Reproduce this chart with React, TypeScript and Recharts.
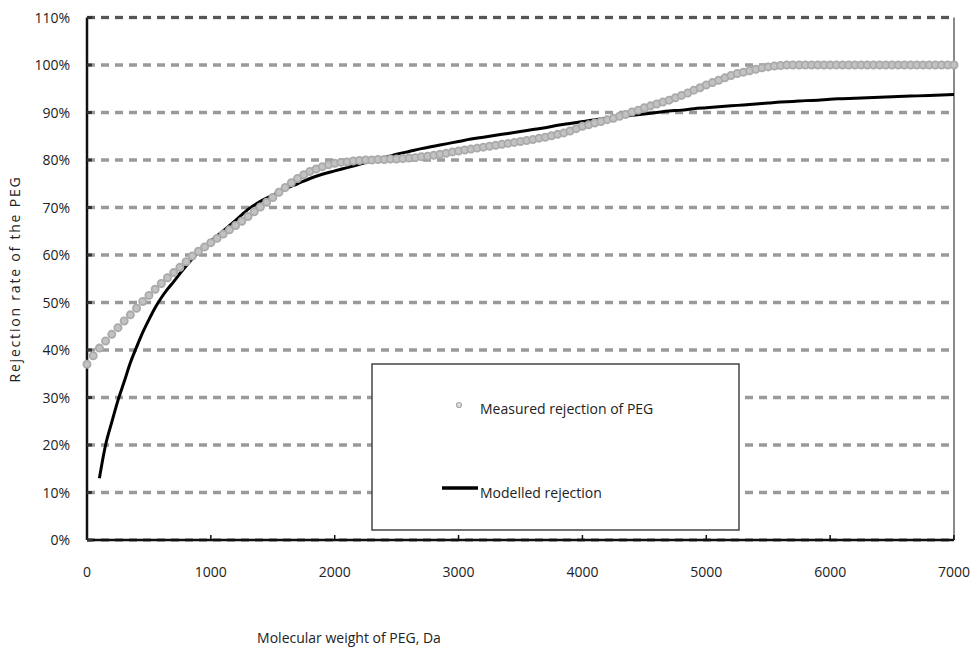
import React from "react"
import {
  ComposedChart,
  Line,
  Scatter,
  XAxis,
  YAxis,
  CartesianGrid,
  ReferenceLine,
} from "recharts"

// measured PEG rejection, every 50 Da
const measuredMw = [
  0, 50, 100, 150, 200, 250, 300, 350, 400, 450, 500, 550, 600, 650, 700, 750, 800, 850, 900, 950,
  1000, 1050, 1100, 1150, 1200, 1250, 1300, 1350, 1400, 1450, 1500, 1550, 1600, 1650, 1700, 1750,
  1800, 1850, 1900, 1950, 2000, 2050, 2100, 2150, 2200, 2250, 2300, 2350, 2400, 2450, 2500, 2550,
  2600, 2650, 2700, 2750, 2800, 2850, 2900, 2950, 3000, 3050, 3100, 3150, 3200, 3250, 3300, 3350,
  3400, 3450, 3500, 3550, 3600, 3650, 3700, 3750, 3800, 3850, 3900, 3950, 4000, 4050, 4100, 4150,
  4200, 4250, 4300, 4350, 4400, 4450, 4500, 4550, 4600, 4650, 4700, 4750, 4800, 4850, 4900, 4950,
  5000, 5050, 5100, 5150, 5200, 5250, 5300, 5350, 5400, 5450, 5500, 5550, 5600, 5650, 5700, 5750,
  5800, 5850, 5900, 5950, 6000, 6050, 6100, 6150, 6200, 6250, 6300, 6350, 6400, 6450, 6500, 6550,
  6600, 6650, 6700, 6750, 6800, 6850, 6900, 6950, 7000,
]
const measuredRejection = [
  37.0, 38.8, 40.4, 41.9, 43.3, 44.7, 46.1, 47.4, 48.8, 50.2, 51.5, 52.8, 54.0, 55.2, 56.3, 57.4, 58.6, 59.8, 60.8, 61.7,
  62.6, 63.5, 64.4, 65.3, 66.2, 67.1, 68.1, 69.1, 70.1, 71.1, 72.1, 73.2, 74.2, 75.2, 76.1, 76.9,
  77.6, 78.1, 78.6, 79.0, 79.3, 79.5, 79.6, 79.8, 79.9, 80.0, 80.0, 80.1, 80.1, 80.2, 80.2, 80.3,
  80.4, 80.5, 80.7, 80.8, 81.0, 81.2, 81.4, 81.7, 81.9, 82.1, 82.3, 82.5, 82.7, 82.9, 83.1, 83.3,
  83.5, 83.7, 83.9, 84.1, 84.3, 84.6, 84.8, 85.1, 85.4, 85.7, 86.1, 86.6, 87.1, 87.4, 87.8, 88.1,
  88.5, 88.8, 89.2, 89.6, 90.1, 90.5, 91.0, 91.4, 91.8, 92.2, 92.6, 93.1, 93.6, 94.1, 94.7, 95.2,
  95.8, 96.3, 96.8, 97.3, 97.8, 98.2, 98.5, 98.8, 99.1, 99.4, 99.6, 99.8, 99.9, 100, 100, 100,
  100, 100, 100, 100, 100, 100, 100, 100, 100, 100, 100, 100, 100, 100, 100, 100,
  100, 100, 100, 100, 100, 100, 100, 100, 100,
]

// model curve
const modelledMw = [
  100, 150, 200, 250, 300, 350, 400, 450, 500, 550, 600, 650, 700, 750, 800, 850, 900,
  1000, 1100, 1200, 1300, 1400, 1500, 1600, 1700, 1800, 1900, 2000, 2100, 2200, 2300, 2400,
  2500, 2600, 2700, 2800, 2900, 3000, 3100, 3200, 3300, 3400, 3500, 3600, 3700, 3800, 3900,
  4000, 4100, 4200, 4300, 4400, 4500, 4600, 4700, 4800, 4900, 5000, 5100, 5200, 5300, 5400,
  5500, 5600, 5700, 5800, 5900, 6000, 6100, 6200, 6300, 6400, 6500, 6600, 6700, 6800, 6900, 7000,
]
const modelledRejection = [
  13.0, 20.0, 24.8, 29.4, 33.3, 37.3, 40.6, 43.7, 46.4, 48.9, 51.0, 52.8, 54.4, 56.1, 57.7, 59.2, 60.6,
  62.9, 65.1, 67.3, 69.6, 71.3, 72.6, 73.9, 75.0, 76.1, 77.0, 77.7, 78.4, 79.1, 79.8, 80.5,
  81.2, 81.8, 82.4, 82.9, 83.4, 83.9, 84.4, 84.8, 85.2, 85.6, 86.0, 86.4, 86.8, 87.3, 87.7,
  88.1, 88.5, 88.8, 89.1, 89.4, 89.7, 90.0, 90.3, 90.5, 90.8, 91.0, 91.2, 91.4, 91.6, 91.8,
  92.0, 92.2, 92.3, 92.5, 92.6, 92.8, 92.9, 93.0, 93.1, 93.2, 93.3, 93.4, 93.5, 93.6, 93.7, 93.8,
]

const xTicks = [0, 1000, 2000, 3000, 4000, 5000, 6000, 7000]
const yTicks = [0, 10, 20, 30, 40, 50, 60, 70, 80, 90, 100, 110]

const measured = measuredMw.map((mw, i) => ({ mw, rate: measuredRejection[i] }))
const modelled = modelledMw.map((mw, i) => ({ mw, rate: modelledRejection[i] }))

const FONT = "'Open Sans', sans-serif"
const TEXT = "#222"

function XTick(props: any) {
  const { x, y, payload } = props
  return (
    <g>
      <line x1={x} x2={x} y1={y} y2={y - 5} stroke="#111" strokeWidth={1.5} />
      <text x={x} y={y + 37} textAnchor="middle" fontSize={14} fontFamily={FONT} fill={TEXT}>
        {payload.value}
      </text>
    </g>
  )
}

function YTick(props: any) {
  const { x, y, payload } = props
  return (
    <g>
      <line x1={x} x2={x + 5} y1={y} y2={y} stroke="#333" strokeWidth={3} />
      <text x={x - 17} y={y + 5} textAnchor="end" fontSize={14} fontFamily={FONT} fill={TEXT}>
        {payload.value}%
      </text>
    </g>
  )
}

function Ring(props: any) {
  const { cx, cy } = props
  if (cx == null || cy == null) return null
  return <circle cx={cx} cy={cy} r={3.6} fill="#c2c2c2" stroke="#aaaaaa" strokeWidth={1.8} />
}

export default function App() {
  return (
    <div style={{ position: "absolute", left: 0, top: 0, width: 976, height: 655, background: "#fff" }}>
      <ComposedChart
        width={976}
        height={655}
        margin={{ top: 17.5, right: 22, left: 27, bottom: 85 }}
      >
        <CartesianGrid
          vertical={false}
          stroke="#9a9a9a"
          strokeWidth={3.5}
          strokeDasharray="8 6"
        />
        <XAxis
          type="number"
          dataKey="mw"
          domain={[0, 7000]}
          ticks={xTicks}
          height={30}
          tickSize={0}
          tickMargin={0}
          tickLine={false}
          axisLine={{ stroke: "#111", strokeWidth: 2.5 }}
          tick={<XTick />}
          interval={0}
        />
        <YAxis
          type="number"
          dataKey="rate"
          domain={[0, 110]}
          ticks={yTicks}
          width={60}
          tickSize={0}
          tickMargin={0}
          tickLine={false}
          axisLine={{ stroke: "#111", strokeWidth: 2.5 }}
          tick={<YTick />}
          interval={0}
        />
        <ReferenceLine y={110} stroke="#555" strokeWidth={3} strokeDasharray="8 6" />
        <ReferenceLine x={7000} stroke="#8a8a8a" strokeWidth={2} />
        <Line
          data={modelled}
          dataKey="rate"
          type="monotone"
          stroke="#000"
          strokeWidth={3}
          dot={false}
          activeDot={false}
          isAnimationActive={false}
        />
        <Scatter
          data={measured}
          dataKey="rate"
          shape={<Ring />}
          isAnimationActive={false}
        />

        {/* legend box */}
        <g>
          <rect x={372} y={364} width={367} height={166} fill="#fff" stroke="#444" strokeWidth={1.5} />
          <circle cx={459} cy={405} r={2.5} fill="#e0e0e0" stroke="#aaa" strokeWidth={1.2} />
          <text x={480} y={414} fontSize={14} fontFamily={FONT} fill={TEXT}>
            Measured rejection of PEG
          </text>
          <line x1={442} x2={478} y1={488} y2={488} stroke="#000" strokeWidth={3.5} />
          <text x={480} y={498} fontSize={14} fontFamily={FONT} fill={TEXT}>
            Modelled rejection
          </text>
        </g>

        <text
          transform="translate(20, 279) rotate(-90)"
          textAnchor="middle"
          fontSize={14}
          fontFamily={FONT}
          fill={TEXT}
          letterSpacing={1.8}
        >
          Rejection rate of the PEG
        </text>
        <text x={349} y={643} textAnchor="middle" fontSize={14} fontFamily={FONT} fill={TEXT}>
          Molecular weight of PEG, Da
        </text>
      </ComposedChart>
    </div>
  )
}
